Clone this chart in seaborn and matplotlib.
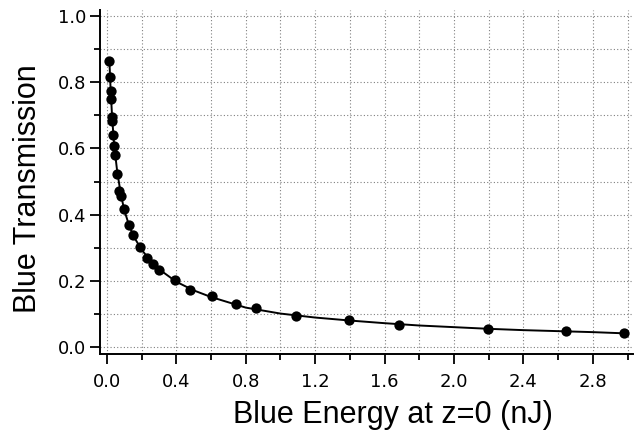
import pandas as pd
import matplotlib.pyplot as plt
import seaborn as sns
from matplotlib.ticker import MultipleLocator

energy = [0.015, 0.019, 0.023, 0.025, 0.029, 0.031, 0.035, 0.042, 0.050, 0.061,
          0.073, 0.081, 0.100, 0.129, 0.153, 0.192, 0.234, 0.269, 0.302, 0.394,
          0.481, 0.606, 0.746, 0.857, 1.092, 1.394, 1.683, 2.198, 2.645, 2.978]
transmission = [0.864, 0.816, 0.774, 0.750, 0.694, 0.684, 0.640, 0.607, 0.579, 0.524,
                0.471, 0.458, 0.417, 0.368, 0.340, 0.302, 0.270, 0.250, 0.232, 0.204,
                0.173, 0.155, 0.132, 0.119, 0.095, 0.082, 0.069, 0.056, 0.048, 0.044]

# Curva de ajuste
fit_energy = [0.015, 0.02, 0.025, 0.03, 0.04, 0.05, 0.06, 0.08, 0.10, 0.13, 0.16,
              0.20, 0.25, 0.30, 0.40, 0.50, 0.60, 0.80, 1.00, 1.20, 1.40, 1.60,
              1.80, 2.00, 2.20, 2.40, 2.60, 2.80, 3.00]
fit_transmission = [0.865, 0.800, 0.750, 0.700, 0.625, 0.575, 0.530, 0.465, 0.415,
                    0.365, 0.330, 0.295, 0.262, 0.236, 0.198, 0.172, 0.152, 0.120,
                    0.102, 0.090, 0.081, 0.073, 0.066, 0.061, 0.056, 0.052, 0.049,
                    0.046, 0.042]

puntos = pd.DataFrame({"energy": energy, "transmission": transmission})
ajuste = pd.DataFrame({"energy": fit_energy, "transmission": fit_transmission})

sns.set_style("ticks")
plt.rcParams['font.family'] = ['Liberation Sans', 'DejaVu Sans']
plt.rcParams['text.color'] = 'black'
plt.rcParams['axes.labelcolor'] = 'black'
plt.rcParams['xtick.color'] = 'black'
plt.rcParams['ytick.color'] = 'black'

fig = plt.figure(figsize=(6.36, 4.33), dpi=100)
ax = fig.add_axes([0.157, 0.1824, 0.838, 0.795])

sns.lineplot(data=ajuste, x="energy", y="transmission", sort=False,
             color="black", linewidth=1.4, ax=ax, zorder=3)
sns.scatterplot(data=puntos, x="energy", y="transmission", color="black",
                s=55, edgecolor="black", linewidth=0, ax=ax, zorder=4)

ax.set_xlim(-0.04, 3.03)
ax.set_ylim(-0.02, 1.018)

ax.xaxis.set_major_locator(MultipleLocator(0.4))
ax.xaxis.set_minor_locator(MultipleLocator(0.2))
ax.yaxis.set_major_locator(MultipleLocator(0.2))
ax.yaxis.set_minor_locator(MultipleLocator(0.1))
ax.xaxis.set_major_formatter(plt.FormatStrFormatter('%.1f'))
ax.yaxis.set_major_formatter(plt.FormatStrFormatter('%.1f'))

# Rejilla punteada
ax.grid(which="both", color="0.5", linestyle=(0, (1, 2)), linewidth=0.8)
ax.set_axisbelow(True)

sns.despine(ax=ax)
for s in ["left", "bottom"]:
    ax.spines[s].set_linewidth(1.4)
    ax.spines[s].set_color("black")

ax.tick_params(which="major", length=7, width=1.3, color="black", labelcolor="black")
ax.tick_params(which="minor", length=4, width=1.3, color="black")
ax.tick_params(axis="x", which="major", pad=7)
ax.tick_params(axis="y", which="major", pad=3)
for lab in ax.get_xticklabels() + ax.get_yticklabels():
    lab.set_family("DejaVu Sans")
    lab.set_fontsize(13)

ax.set_xlabel("Blue Energy at z=0 (nJ)", fontsize=22, color="black")
ax.set_ylabel("Blue Transmission", fontsize=22, color="black")
ax.xaxis.set_label_coords(0.55, -0.135)
ax.yaxis.set_label_coords(-0.106, 0.48)

fig.savefig("out.png", dpi=100)
